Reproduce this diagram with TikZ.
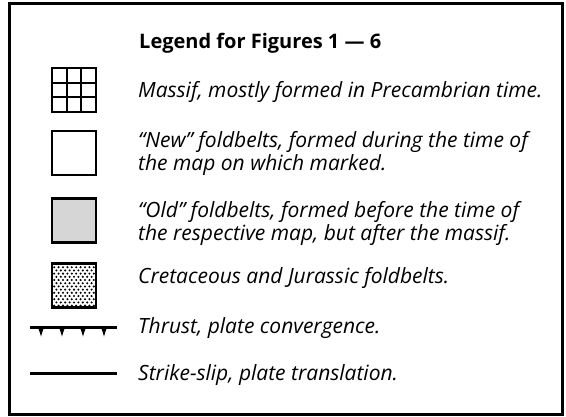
\documentclass[tikz,border=0pt]{standalone}
\usepackage{fontspec}
\setmainfont{Open Sans}
\usetikzlibrary{calc}
\definecolor{oldgray}{RGB}{214,214,214}
\begin{document}
\begin{tikzpicture}[x=1pt,y=-1pt,
  sym/.style={draw=black, line width=2.8pt, minimum width=44pt, minimum height=44pt, inner sep=0pt, outer sep=0pt},
  lbl/.style={anchor=base west, inner sep=0pt, font=\fontsize{21}{24}\selectfont\itshape},
  ttl/.style={anchor=base west, inner sep=0pt, font=\fontsize{20}{24}\selectfont\bfseries},
  gridline/.style={line width=1.8pt},
  fault/.style={line width=3pt},
  tooth/.style={fill=black}]
\useasboundingbox (0,0) rectangle (566,416);
\draw[line width=3pt] (9,3) rectangle (562,414);

\node[ttl] (title) at (139,48) {Legend for Figures 1 — 6};

% Massif
\node[sym] (massif) at (74,90) {};
\draw[gridline] ($(massif.north west)!1/3!(massif.north east)$) -- ($(massif.south west)!1/3!(massif.south east)$);
\draw[gridline] ($(massif.north west)!2/3!(massif.north east)$) -- ($(massif.south west)!2/3!(massif.south east)$);
\draw[gridline] ($(massif.north west)!1/3!(massif.south west)$) -- ($(massif.north east)!1/3!(massif.south east)$);
\draw[gridline] ($(massif.north west)!2/3!(massif.south west)$) -- ($(massif.north east)!2/3!(massif.south east)$);
\node[sym] at (74,90) {};
\node[lbl] (tmassif) at (138,97) {Massif, mostly formed in Precambrian time.};

% New
\node[sym] (new) at (74,153) {};
\node[lbl] (tnew1) at (138,147) {“New” foldbelts, formed during the time of};
\node[lbl] (tnew2) at (138,170) {the map on which marked.};

% Old
\node[sym, fill=oldgray] (old) at (74,220.5) {};
\node[lbl] (told1) at (138,217) {“Old” foldbelts, formed before the time of};
\node[lbl] (told2) at (138,240) {the respective map, but after the massif.};

% Cretaceous
\node[sym] (cret) at (74,285.5) {};
\begin{scope}
  \clip (cret.north west) rectangle (cret.south east);
  \foreach \r in {0,...,14} {
    \foreach \c in {0,...,10} {
      \pgfmathsetmacro{\xx}{52+\c*4.4+mod(\r,2)*2.2}
      \pgfmathsetmacro{\yy}{264+\r*3.2}
      \fill (\xx,\yy) circle (1.15pt);
    }
  }
\end{scope}
\node[sym] at (74,285.5) {};
\node[lbl] (tcret) at (138,283) {Cretaceous and Jurassic foldbelts.};

% Thrust
\coordinate (th1) at (30,327);
\coordinate (th2) at (117,327);
\draw[fault] (th1) -- (th2);
\foreach \t in {41,62,83,104} {
  \fill[tooth] (\t-5,327) .. controls (\t-2.5,328) .. (\t,336.5) .. controls (\t+2.5,328) .. (\t+5,327) -- cycle;
}
\node[lbl] (tthrust) at (138,333) {Thrust, plate convergence.};

% Strike-slip
\coordinate (ss1) at (30,373);
\coordinate (ss2) at (117,373);
\draw[fault] (ss1) -- (ss2);
\node[lbl] (tss) at (138,380) {Strike-slip, plate translation.};
\end{tikzpicture}
\end{document}
